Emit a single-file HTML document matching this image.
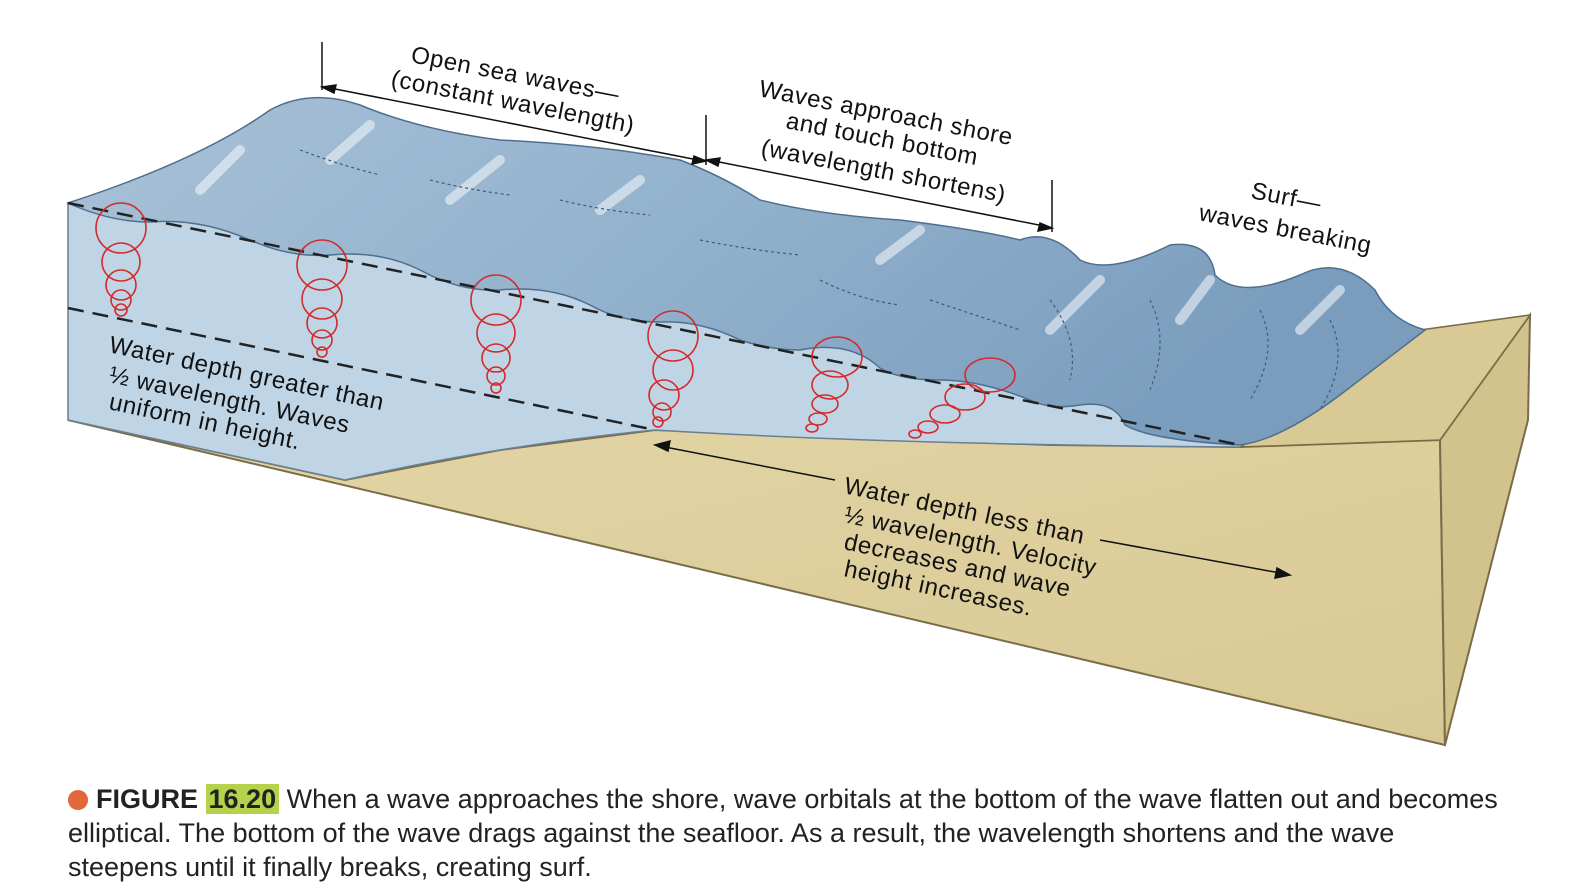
<!DOCTYPE html>
<html><head><meta charset="utf-8"><style>
body{margin:0;background:#fff;width:1586px;height:892px;overflow:hidden;font-family:"Liberation Sans",sans-serif}
.cap{position:absolute;left:68px;top:782px;width:1440px;font-size:27px;line-height:34px;color:#222}
.dot{display:inline-block;width:20px;height:20px;border-radius:50%;background:#e0683a;vertical-align:-2px;margin-right:8px}
.hl{background:#b5d34a;padding:0 3px}
</style></head><body>
<svg width="1586" height="892" style="position:absolute;left:0;top:0" font-family="Liberation Sans, sans-serif">
<defs>
<linearGradient id="wv" x1="0" y1="0" x2="1" y2="0.3">
<stop offset="0" stop-color="#a9c1d8"/><stop offset="0.5" stop-color="#93b2cd"/><stop offset="1" stop-color="#7b9dbd"/></linearGradient>
<linearGradient id="sd" x1="0" y1="0" x2="1" y2="1"><stop offset="0" stop-color="#e3d5a6"/><stop offset="1" stop-color="#d8c994"/></linearGradient>
</defs>
<polygon points="68,420 345,480 500,450 655,430 850,438 1050,445 1240,447 1440,440 1445,745" fill="url(#sd)" stroke="#7a6c48" stroke-width="2"/>
<polygon points="1440,440 1530,315 1528,420 1445,745" fill="#d2c28c" stroke="#7a6c48" stroke-width="2"/>
<polygon points="1240,447 1330,400 1420,330 1530,315 1440,440" fill="#d9c994" stroke="#7a6c48" stroke-width="1.5"/>
<path d="M68,203 L300,215 L1240,405 L1240,447 Q900,445 655,430 Q500,445 345,480 L68,420 Z" fill="#bfd5e6"/>
<path d="M68,203 L68,420 L345,480 Q500,445 655,430 Q900,445 1240,447" fill="none" stroke="#6a7f8f" stroke-width="1.5"/>
<path d="M68,203 Q200,160 270,110 Q310,88 360,105 Q420,130 500,140 Q600,145 680,160 Q720,175 760,200 Q820,215 900,220 Q980,230 1020,240 Q1050,228 1080,260 Q1110,275 1170,245 Q1210,240 1215,275 Q1240,300 1300,275 Q1340,255 1375,290 Q1390,320 1425,330 L1340,395 Q1280,440 1240,445 Q1150,440 1125,425 Q1115,400 1080,405 Q1050,410 1030,400 Q980,380 940,380 Q900,380 880,368 Q850,340 800,350 Q770,350 740,340 Q700,320 660,322 Q620,322 590,305 Q550,285 500,290 Q460,292 420,270 Q380,250 330,255 Q290,258 250,240 Q200,218 150,222 Q110,222 68,203 Z" fill="url(#wv)" stroke="#4f6f8d" stroke-width="1.5"/>
<g fill="none" stroke="#eef4f9" stroke-width="10" opacity="0.6" stroke-linecap="round">
<path d="M200,190 L240,150"/><path d="M330,160 L370,125"/><path d="M450,200 L500,160"/><path d="M600,210 L640,180"/><path d="M880,260 L920,230"/><path d="M1050,330 L1100,280"/><path d="M1180,320 L1210,280"/><path d="M1300,330 L1340,290"/>
</g>
<g fill="none" stroke="#3d5c78" stroke-width="1.2" stroke-dasharray="3 3">
<path d="M300,150 Q340,165 380,175"/><path d="M430,180 Q470,190 510,195"/><path d="M560,200 Q600,210 650,215"/><path d="M700,240 Q750,250 800,255"/><path d="M820,280 Q860,300 900,305"/><path d="M930,300 Q990,320 1020,330"/>
<path d="M1050,300 Q1080,340 1070,380"/><path d="M1150,300 Q1170,340 1150,390"/><path d="M1260,310 Q1280,350 1250,400"/><path d="M1330,320 Q1350,360 1320,410"/>
</g>
<line x1="68" y1="203" x2="1240" y2="445" stroke="#222" stroke-width="2.5" stroke-dasharray="16 9"/>
<line x1="68" y1="308" x2="655" y2="430" stroke="#222" stroke-width="2.5" stroke-dasharray="16 9"/>
<g fill="none" stroke="#d42a2a" stroke-width="1.6">
<circle cx="121" cy="228" r="25"/><circle cx="121" cy="262" r="19"/><circle cx="121" cy="285" r="15"/><circle cx="121" cy="300" r="10"/><circle cx="121" cy="310" r="6"/>
<circle cx="322" cy="265" r="25"/><circle cx="322" cy="299" r="20"/><circle cx="322" cy="323" r="15"/><circle cx="322" cy="340" r="10"/><circle cx="322" cy="352" r="5"/>
<circle cx="496" cy="300" r="25"/><circle cx="496" cy="333" r="19"/><circle cx="496" cy="358" r="14"/><circle cx="496" cy="376" r="9"/><circle cx="496" cy="388" r="5"/>
<circle cx="673" cy="336" r="25"/><circle cx="673" cy="370" r="20"/><circle cx="664" cy="395" r="15"/><circle cx="662" cy="412" r="9"/><circle cx="658" cy="422" r="5"/>
<ellipse cx="837" cy="357" rx="25" ry="20"/><ellipse cx="830" cy="385" rx="18" ry="14"/><ellipse cx="825" cy="404" rx="13" ry="9"/><ellipse cx="818" cy="419" rx="9" ry="6"/><ellipse cx="812" cy="428" rx="6" ry="4"/>
<ellipse cx="990" cy="375" rx="25" ry="17"/><ellipse cx="965" cy="397" rx="20" ry="13"/><ellipse cx="945" cy="414" rx="15" ry="9"/><ellipse cx="928" cy="427" rx="10" ry="6"/><ellipse cx="915" cy="434" rx="6" ry="4"/>
</g>
<g stroke="#111" stroke-width="1.5" fill="#111">
<line x1="322" y1="42" x2="322" y2="90"/><line x1="706" y1="115" x2="706" y2="165"/><line x1="1052" y1="180" x2="1052" y2="232"/>
<line x1="330" y1="88" x2="698" y2="160"/><polygon points="322,87 336,85 334,93"/><polygon points="706,161 692,164 694,156"/>
<line x1="714" y1="161" x2="1044" y2="226"/><polygon points="706,160 720,158 718,166"/><polygon points="1052,228 1038,231 1040,223"/>
<line x1="665" y1="447" x2="835" y2="480"/><polygon points="655,445 670,441 668,451"/>
<line x1="1100" y1="540" x2="1280" y2="573"/><polygon points="1290,575 1275,578 1277,568"/>
</g>
<g font-size="24" fill="#111" letter-spacing="0.6">
<text transform="translate(410,62) rotate(11)">Open sea waves—</text>
<text transform="translate(390,86) rotate(11)">(constant wavelength)</text>
<text transform="translate(758,96) rotate(11)">Waves approach shore</text>
<text transform="translate(785,128) rotate(11)">and touch bottom</text>
<text transform="translate(760,155) rotate(11)">(wavelength shortens)</text>
<text transform="translate(1250,198) rotate(11)">Surf—</text>
<text transform="translate(1198,220) rotate(11)">waves breaking</text>
<text transform="translate(108,352) rotate(12)">Water depth greater than</text>
<text transform="translate(108,382) rotate(12)">½ wavelength. Waves</text>
<text transform="translate(108,409) rotate(12)">uniform in height.</text>
<text transform="translate(843,493) rotate(12)">Water depth less than</text>
<text transform="translate(843,522) rotate(12)">½ wavelength. Velocity</text>
<text transform="translate(843,549) rotate(12)">decreases and wave</text>
<text transform="translate(843,576) rotate(12)">height increases.</text>
</g>
</svg>
<div class="cap"><span class="dot"></span><b>FIGURE <span class="hl">16.20</span></b> When a wave approaches the shore, wave orbitals at the bottom of the wave flatten out and becomes elliptical. The bottom of the wave drags against the seafloor. As a result, the wavelength shortens and the wave steepens until it finally breaks, creating surf.</div>
</body></html>
